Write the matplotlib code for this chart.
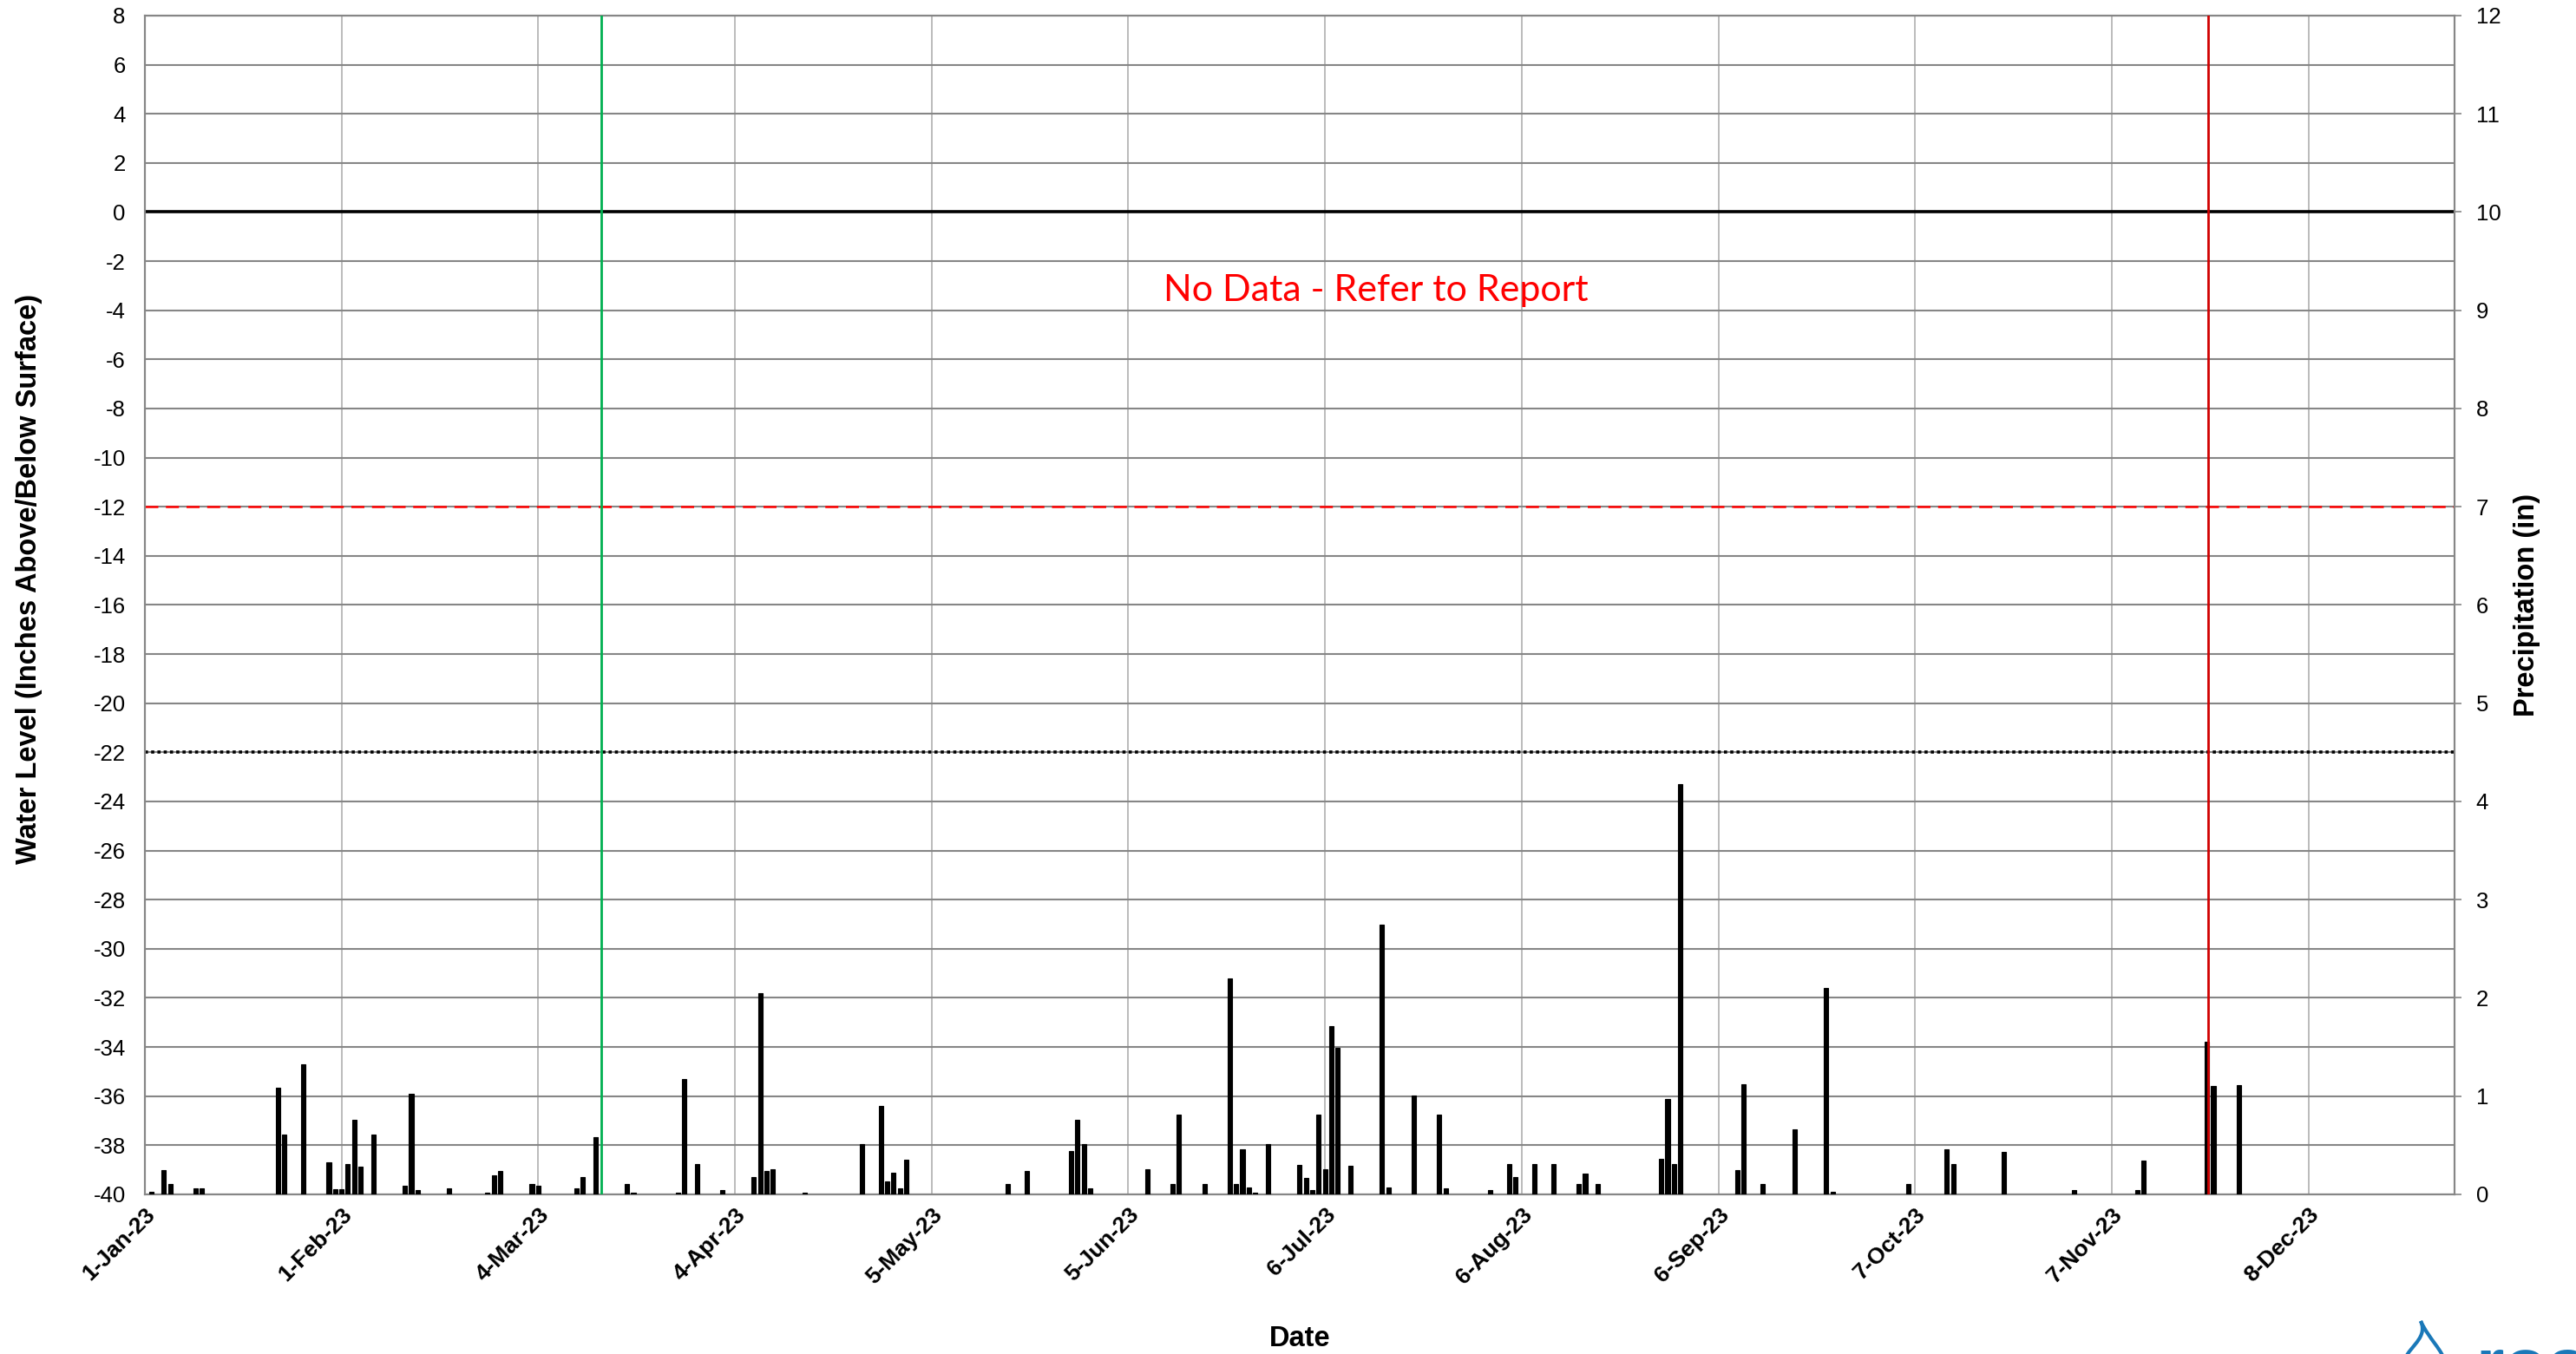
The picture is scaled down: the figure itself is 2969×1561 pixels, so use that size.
import numpy as np
import pandas as pd
import matplotlib.pyplot as plt
import matplotlib.dates as mdates
from matplotlib.path import Path
from matplotlib.patches import PathPatch

plt.rcParams['axes.unicode_minus'] = False

# daily rainfall (in), only the days with a reading
precip_dates = [
    '2023-01-02', '2023-01-04', '2023-01-05', '2023-01-09', '2023-01-10', '2023-01-22',
    '2023-01-23', '2023-01-26', '2023-01-30', '2023-01-31', '2023-02-01', '2023-02-02',
    '2023-02-03', '2023-02-04', '2023-02-06', '2023-02-11', '2023-02-12', '2023-02-13',
    '2023-02-18', '2023-02-24', '2023-02-25', '2023-02-26', '2023-03-03', '2023-03-04',
    '2023-03-10', '2023-03-11', '2023-03-13', '2023-03-18', '2023-03-19', '2023-03-26',
    '2023-03-27', '2023-03-29', '2023-04-02', '2023-04-07', '2023-04-08', '2023-04-09',
    '2023-04-10', '2023-04-15', '2023-04-24', '2023-04-27', '2023-04-28', '2023-04-29',
    '2023-04-30', '2023-05-01', '2023-05-17', '2023-05-20', '2023-05-27', '2023-05-28',
    '2023-05-29', '2023-05-30', '2023-06-08', '2023-06-12', '2023-06-13', '2023-06-17',
    '2023-06-21', '2023-06-22', '2023-06-23', '2023-06-24', '2023-06-25', '2023-06-27',
    '2023-07-02', '2023-07-03', '2023-07-04', '2023-07-05', '2023-07-06', '2023-07-07',
    '2023-07-08', '2023-07-10', '2023-07-15', '2023-07-16', '2023-07-20', '2023-07-24',
    '2023-07-25', '2023-08-01', '2023-08-04', '2023-08-05', '2023-08-08', '2023-08-11',
    '2023-08-15', '2023-08-16', '2023-08-18', '2023-08-28', '2023-08-29', '2023-08-30',
    '2023-08-31', '2023-09-09', '2023-09-10', '2023-09-13', '2023-09-18', '2023-09-23',
    '2023-09-24', '2023-10-06', '2023-10-12', '2023-10-13', '2023-10-21', '2023-11-01',
    '2023-11-11', '2023-11-12', '2023-11-22', '2023-11-23', '2023-11-27',
]
precip_in = [
    0.03, 0.25, 0.11, 0.06, 0.06, 1.09,
    0.61, 1.32, 0.33, 0.05, 0.05, 0.31,
    0.76, 0.28, 0.61, 0.09, 1.02, 0.04,
    0.06, 0.02, 0.19, 0.24, 0.11, 0.09,
    0.06, 0.18, 0.58, 0.11, 0.02, 0.02,
    1.17, 0.31, 0.04, 0.18, 2.05, 0.24,
    0.26, 0.02, 0.51, 0.90, 0.13, 0.22,
    0.06, 0.35, 0.11, 0.24, 0.44, 0.76,
    0.51, 0.06, 0.26, 0.11, 0.81, 0.11,
    2.20, 0.11, 0.46, 0.07, 0.02, 0.51,
    0.30, 0.17, 0.04, 0.81, 0.26, 1.71,
    1.49, 0.29, 2.75, 0.07, 1.01, 0.81,
    0.06, 0.04, 0.31, 0.18, 0.31, 0.31,
    0.11, 0.21, 0.11, 0.36, 0.97, 0.31,
    4.18, 0.25, 1.12, 0.11, 0.66, 2.10,
    0.03, 0.11, 0.46, 0.31, 0.43, 0.04,
    0.04, 0.34, 1.55, 1.10, 1.11,
]

period_start = '2023-01-01'
period_end = '2023-12-31'
level_ticks = list(range(-40, 9, 2))
precip_ticks = list(range(0, 13))
surface_level = 0
ref_level_red = -12
ref_level_dotted = -22
install_date = '2023-03-14'
removal_date = '2023-11-22 06:00'
note_text = 'No Data - Refer to Report'
note_date = '2023-07-14'
note_level = -3.2

FONT = 'Liberation Sans'
GRID = '#868686'

fig = plt.figure(figsize=(29.69, 15.61), dpi=100)
ax = fig.add_axes([0.0562, 0.1179, 0.8966, 0.8706])
ax2 = ax.twinx()

start = pd.Timestamp(period_start)
end = pd.Timestamp(period_end)
tick_dates = pd.date_range(start, periods=12, freq='31D')

ax.set_xlim(start, end)
ax.set_ylim(-40, 8)
ax.set_yticks(level_ticks)
ax.set_xticks(tick_dates)
ax.set_xticklabels([f"{d.day}-{d:%b-%y}" for d in tick_dates])

# gridlines
ax.grid(axis='y', color=GRID, lw=1.5, zorder=0)
ax.grid(axis='x', color='#a8a8a8', lw=1.1, zorder=0)
ax.set_axisbelow(True)

# reference levels on the water-level axis
ax.axhline(surface_level, color='black', lw=2.6, zorder=2)
ax.axhline(ref_level_red, color='#ff0000', lw=1.8, ls=(0, (6, 3.5)), zorder=2)
ax.axhline(ref_level_dotted, color='black', lw=2.6, ls=(0, (1, 1)), zorder=2)
ax.text(pd.Timestamp(note_date), note_level, note_text, color='#ff0000',
        fontsize=31, fontfamily='Lato', ha='center', va='center', zorder=6)

# precipitation bars on the right-hand axis
ax2.set_zorder(ax.get_zorder() + 1)
ax2.patch.set_visible(False)
ax2.bar(pd.to_datetime(precip_dates), precip_in, width=0.7, color='black',
        edgecolor='black', linewidth=0.8, zorder=3)
ax2.set_ylim(0, 12)
ax2.set_yticks(precip_ticks)
ax2.axvline(pd.Timestamp(install_date), color='#00b050', lw=2.0, zorder=5)
ax2.axvline(pd.Timestamp(removal_date), color='#d00000', lw=2.0, zorder=5)

for a in (ax, ax2):
    for s in a.spines.values():
        s.set_color(GRID)
        s.set_linewidth(1.5)

ax.tick_params(axis='y', length=0, pad=16, labelsize=18.5, labelcolor='black')
ax.tick_params(axis='x', length=0, pad=8, labelsize=19)
for lab in ax.get_xticklabels():
    lab.set_fontfamily(FONT)
    lab.set_fontweight('bold')
    lab.set_rotation(45)
    lab.set_ha('right')
    lab.set_va('top')
    lab.set_rotation_mode('anchor')
for lab in ax.get_yticklabels():
    lab.set_fontfamily(FONT)
ax2.tick_params(axis='y', length=6, width=1.2, color=GRID, pad=12, labelsize=18.5)
for lab in ax2.get_yticklabels():
    lab.set_fontfamily(FONT)

ax.set_ylabel('Water Level (Inches Above/Below Surface)', fontsize=23.5,
              fontweight='bold', fontfamily=FONT)
ax.yaxis.set_label_coords(-0.0443, 0.522)
ax2.set_ylabel('Precipitation (in)', fontsize=23.5, fontweight='bold', fontfamily=FONT)
ax2.yaxis.set_label_coords(1.0256, 0.5)
ax.set_xlabel('Date', fontsize=23.5, fontweight='bold', fontfamily=FONT)
ax.xaxis.set_label_coords(0.5, -0.111)

# corner logo, mostly cut off by the page edge
W, H = 2969, 1561
drop = Path([(2790 / W, 1 - 1523 / H), (2800 / W, 1 - 1545 / H), (2770 / W, 1 - 1555 / H),
             (2770 / W, 1 - 1575 / H)],
            [Path.MOVETO, Path.CURVE4, Path.CURVE4, Path.CURVE4])
fig.patches.append(PathPatch(drop, transform=fig.transFigure, fill=False,
                             edgecolor='#1a78b8', lw=3))
drop2 = Path([(2790 / W, 1 - 1523 / H), (2800 / W, 1 - 1545 / H), (2815 / W, 1 - 1555 / H),
              (2820 / W, 1 - 1575 / H)],
             [Path.MOVETO, Path.CURVE4, Path.CURVE4, Path.CURVE4])
fig.patches.append(PathPatch(drop2, transform=fig.transFigure, fill=False,
                             edgecolor='#1a78b8', lw=3))
fig.text(2853 / W, 1 - 1540 / H, 'ros', color='#1a78b8', fontsize=60,
         fontweight='bold', fontfamily=FONT, ha='left', va='top')

fig.savefig('out.png', dpi=100)
